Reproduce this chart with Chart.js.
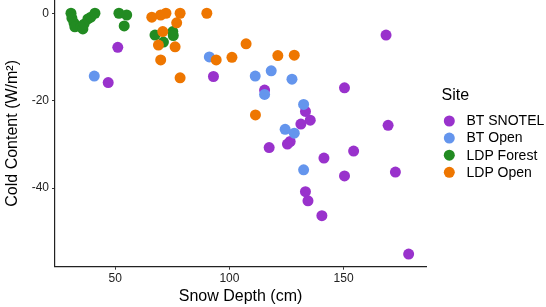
<!DOCTYPE html>
<html><head><meta charset="utf-8">
<script src="https://cdn.jsdelivr.net/npm/chart.js@4"></script>
<style>html,body{margin:0;padding:0;background:#fff}#wrap{width:546px;height:307px;position:relative}</style>
</head><body><div id="wrap"><canvas id="c" width="546" height="307"></canvas></div>
<script>
const siteNames = ['BT SNOTEL', 'BT Open', 'LDP Forest', 'LDP Open'];
const siteColors = ['#9932CC', '#6495ED', '#228B22', '#EE7600'];

const snotelDepth = [51.1,46.9,93.0,115.4,168.6,150.4,169.5,133.3,135.4,131.3,126.6,125.4,117.4,141.4,154.4,150.4,172.7,133.3,134.4,140.5,178.5];
const snotelCold  = [-7.7,-15.8,-14.4,-17.5,-4.9,-17.0,-25.6,-22.4,-24.4,-25.3,-29.3,-29.9,-30.7,-33.1,-31.5,-37.2,-36.3,-40.8,-42.9,-46.3,-55.1];

const btOpenDepth = [40.8,91.2,111.3,118.3,127.4,115.4,132.5,124.4,128.4,132.5];
const btOpenCold  = [-14.3,-9.9,-14.3,-13.1,-15.0,-18.5,-20.8,-26.5,-27.4,-35.8];

const ldpForestDepth = [30.6,31.0,31.9,32.3,35.0,35.8,36.3,38.0,39.3,41.1,51.6,55.0,53.9,67.4,71.1,75.2,75.4];
const ldpForestCold  = [0.1,-1.0,-2.1,-3.0,-3.0,-3.5,-2.4,-1.2,-0.8,0.1,0.1,-0.3,-2.8,-4.9,-6.5,-4.1,-5.0];

const ldpOpenDepth = [66.0,69.9,72.2,78.4,76.9,90.1,70.8,68.9,76.2,69.9,78.4,107.3,94.2,101.1,121.2,128.4,111.4];
const ldpOpenCold  = [-0.8,-0.3,0.1,0.1,-2.1,0.1,-4.1,-7.2,-7.6,-10.6,-14.7,-6.9,-10.6,-10.0,-9.6,-9.5,-23.2];

const xTicks = [50, 100, 150];
const yTicks = [0, -20, -40];

const seriesX = [snotelDepth, btOpenDepth, ldpForestDepth, ldpOpenDepth];
const seriesY = [snotelCold, btOpenCold, ldpForestCold, ldpOpenCold];
const drawOrder = [3, 2, 1, 0];

const FONT = "'Liberation Sans', Arial, sans-serif";

const datasets = siteNames.map((name, i) => ({
  label: name,
  data: seriesX[i].map((x, j) => ({x: x, y: seriesY[i][j]})),
  backgroundColor: siteColors[i],
  borderWidth: 0,
  pointRadius: 5.5,
  pointHoverRadius: 5.5,
  order: drawOrder[i],
  clip: false
}));

const legendPlugin = {
  id: 'siteLegend',
  afterDraw(chart) {
    const ctx = chart.ctx;
    ctx.save();
    ctx.fillStyle = '#000';
    ctx.textBaseline = 'middle';
    ctx.textAlign = 'left';
    ctx.font = '16px ' + FONT;
    ctx.fillText('Site', 441.5, 96);
    ctx.font = '14px ' + FONT;
    siteNames.forEach((name, i) => {
      const y = 121 + i * 17.1;
      ctx.beginPath();
      ctx.arc(449.3, y, 5.5, 0, Math.PI * 2);
      ctx.fillStyle = siteColors[i];
      ctx.fill();
      ctx.fillStyle = '#000';
      ctx.fillText(name, 466.5, y + 0.5);
    });
    ctx.restore();
  }
};

new Chart(document.getElementById('c'), {
  type: 'scatter',
  data: { datasets },
  options: {
    responsive: false,
    animation: false,
    devicePixelRatio: 1,
    layout: { autoPadding: false, padding: { left: 0, right: 120, top: 0, bottom: 0 } },
    plugins: { legend: { display: false }, tooltip: { enabled: false } },
    scales: {
      x: {
        type: 'linear',
        min: 23.6, max: 186.1,
        afterFit(s) { s.height = 40.3; s.paddingLeft = 0; s.paddingRight = 0; },
        afterBuildTicks(s) { s.ticks = xTicks.map(v => ({value: v})); },
        grid: { drawOnChartArea: false, drawTicks: true, tickLength: 3, color: '#333', tickWidth: 1 },
        border: { display: true, color: '#222', width: 1.2 },
        ticks: { color: '#222', font: { family: FONT, size: 12 }, padding: 2, maxRotation: 0 },
        title: { display: true, text: 'Snow Depth (cm)', color: '#000', font: { family: FONT, size: 16 }, padding: { top: 0, bottom: 1 } }
      },
      y: {
        type: 'linear',
        min: -58.0, max: 3.14,
        afterFit(s) { s.width = 55; s.paddingTop = 0; s.paddingBottom = 0; },
        afterBuildTicks(s) { s.ticks = yTicks.map(v => ({value: v})); },
        grid: { drawOnChartArea: false, drawTicks: true, tickLength: 3, color: '#333', tickWidth: 1 },
        border: { display: true, color: '#222', width: 1.2 },
        ticks: { color: '#222', font: { family: FONT, size: 12 }, padding: 3 },
        title: { display: true, text: 'Cold Content (W/m²)', color: '#000', font: { family: FONT, size: 16 }, padding: { top: 3, bottom: 0 } }
      }
    }
  },
  plugins: [legendPlugin]
});
</script>
</body></html>
